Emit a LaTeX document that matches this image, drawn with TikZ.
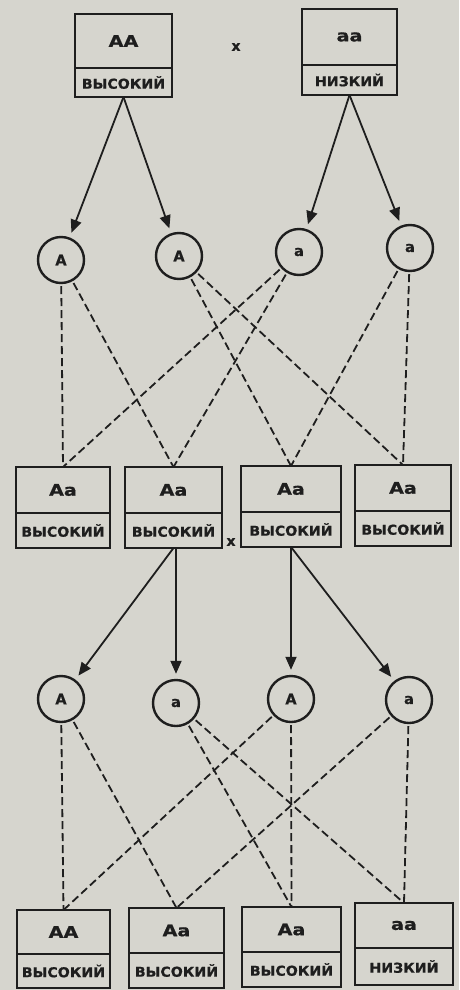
\documentclass[tikz,border=0pt]{standalone}
\usepackage{fontspec}
\setmainfont{DejaVu Sans}
\newfontfamily\genofont[FakeStretch=1.2,FakeBold=0.8]{DejaVu Sans}
\newfontfamily\phenofont[FakeStretch=1.05,FakeBold=0.8]{DejaVu Sans}
\newfontfamily\circfont[FakeBold=0.6]{DejaVu Sans}
\usetikzlibrary{arrows.meta}
\definecolor{paper}{RGB}{214,213,206}
\definecolor{ink}{RGB}{30,30,30}
\begin{document}
\begin{tikzpicture}[x=1pt,y=-1pt,
  genobox/.style={draw=ink, line width=2.8pt, outer sep=0pt, inner sep=0pt, text=ink,
    font=\genofont\bfseries\fontsize{16}{16}\selectfont},
  phenobox/.style={draw=ink, line width=2.8pt, outer sep=0pt, inner sep=0pt, anchor=north, text=ink,
    font=\phenofont\bfseries\fontsize{13.5}{13.5}\selectfont},
  gamete/.style={circle, draw=ink, line width=2.4pt, minimum size=46pt, inner sep=0pt, text=ink,
    font=\circfont\bfseries\fontsize{14.5}{14.5}\selectfont},
  cross/.style={text=ink, inner sep=0pt, font=\circfont\bfseries\fontsize{14}{14}\selectfont},
  arr/.style={draw=ink, line width=1.8pt, -{Triangle[length=13pt,width=11pt]}, shorten >=5pt},
  dsh/.style={draw=ink, line width=1.8pt, dash pattern=on 8pt off 4pt, shorten <=2pt}]
\path[fill=paper] (0,0) rectangle (459,990);
% parents
\node[genobox, minimum width=97pt, minimum height=54pt] (p1g) at (123.5,41) {AA};
\node[phenobox, minimum width=97pt, minimum height=29pt] (p1p) at (p1g.south) {ВЫСОКИЙ};
\node[genobox, minimum width=95pt, minimum height=56pt] (p2g) at (349.5,37) {aa};
\node[phenobox, minimum width=95pt, minimum height=30pt] (p2p) at (p2g.south) {НИЗКИЙ};
\node[cross] (x1) at (236,47) {x};
% gametes 1
\node[gamete] (g1) at (61,260) {A};
\node[gamete] (g2) at (179,256) {A};
\node[gamete] (g3) at (299,252) {a};
\node[gamete] (g4) at (410,248) {a};
\draw[arr] (p1p.south) -- (g1);
\draw[arr] (p1p.south) -- (g2);
\draw[arr] (p2p.south) -- (g3);
\draw[arr] (p2p.south) -- (g4);
% F1
\node[genobox, minimum width=94pt, minimum height=46pt] (c1g) at (63,490) {Aa};
\node[phenobox, minimum width=94pt, minimum height=35pt] (c1p) at (c1g.south) {ВЫСОКИЙ};
\node[genobox, minimum width=97pt, minimum height=46pt] (c2g) at (173.5,490) {Aa};
\node[phenobox, minimum width=97pt, minimum height=35pt] (c2p) at (c2g.south) {ВЫСОКИЙ};
\node[genobox, minimum width=100pt, minimum height=46pt] (c3g) at (291,489) {Aa};
\node[phenobox, minimum width=100pt, minimum height=35pt] (c3p) at (c3g.south) {ВЫСОКИЙ};
\node[genobox, minimum width=96pt, minimum height=46pt] (c4g) at (403,488) {Aa};
\node[phenobox, minimum width=96pt, minimum height=35pt] (c4p) at (c4g.south) {ВЫСОКИЙ};
\node[cross] (x2) at (231,542) {x};
\draw[dsh] (g1) -- (c1g.north);
\draw[dsh] (g1) -- (c2g.north);
\draw[dsh] (g2) -- (c3g.north);
\draw[dsh] (g2) -- (c4g.north);
\draw[dsh] (g3) -- (c1g.north);
\draw[dsh] (g3) -- (c2g.north);
\draw[dsh] (g4) -- (c3g.north);
\draw[dsh] (g4) -- (c4g.north);
% gametes 2
\node[gamete] (h1) at (61,699) {A};
\node[gamete] (h2) at (176,703) {a};
\node[gamete] (h3) at (291,699) {A};
\node[gamete] (h4) at (409,700) {a};
\draw[arr] (c2p.south) -- (h1);
\draw[arr] (c2p.south -| h2.north) -- (h2);
\draw[arr] (c3p.south -| h3.north) -- (h3);
\draw[arr] (c3p.south) -- (h4);
% F2
\node[genobox, minimum width=93pt, minimum height=44pt] (d1g) at (63.5,932) {AA};
\node[phenobox, minimum width=93pt, minimum height=34pt] (d1p) at (d1g.south) {ВЫСОКИЙ};
\node[genobox, minimum width=95pt, minimum height=45pt] (d2g) at (176.5,930.5) {Aa};
\node[phenobox, minimum width=95pt, minimum height=35pt] (d2p) at (d2g.south) {ВЫСОКИЙ};
\node[genobox, minimum width=99pt, minimum height=45pt] (d3g) at (291.5,929.5) {Aa};
\node[phenobox, minimum width=99pt, minimum height=35pt] (d3p) at (d3g.south) {ВЫСОКИЙ};
\node[genobox, minimum width=98pt, minimum height=45pt] (d4g) at (404,925.5) {aa};
\node[phenobox, minimum width=98pt, minimum height=37pt] (d4p) at (d4g.south) {НИЗКИЙ};
\draw[dsh] (h1) -- (d1g.north);
\draw[dsh] (h1) -- (d2g.north);
\draw[dsh] (h2) -- (d3g.north);
\draw[dsh] (h2) -- (d4g.north);
\draw[dsh] (h3) -- (d1g.north);
\draw[dsh] (h3) -- (d3g.north);
\draw[dsh] (h4) -- (d2g.north);
\draw[dsh] (h4) -- (d4g.north);
\end{tikzpicture}
\end{document}
